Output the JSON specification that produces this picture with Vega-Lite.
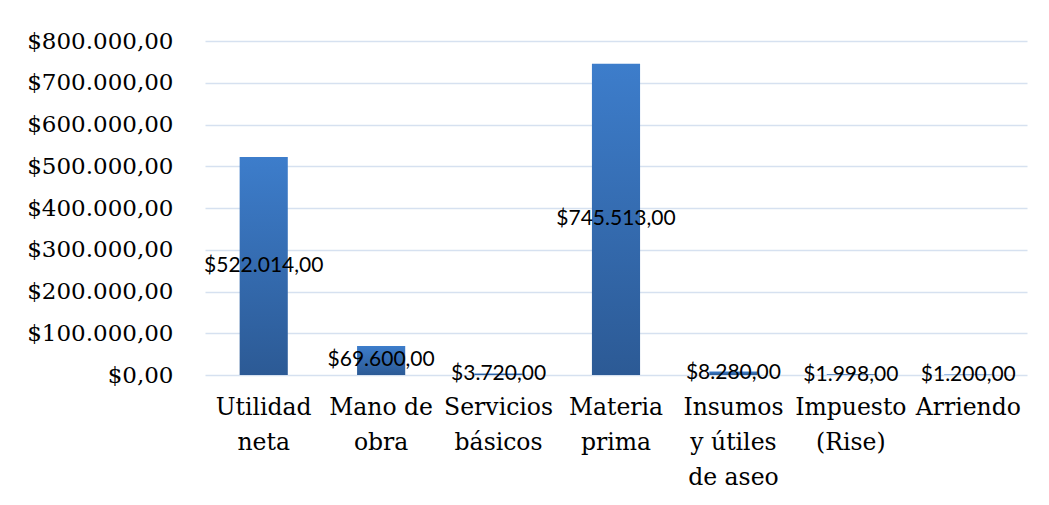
{
  "$schema": "https://vega.github.io/schema/vega-lite/v6.json",
  "width": 822,
  "height": 334,
  "autosize": {"type": "none"},
  "padding": {"left": 205, "top": 41, "right": 22, "bottom": 130},
  "background": "white",
  "config": {
    "view": {"stroke": null},
    "locale": {"number": {"decimal": ",", "thousands": ".", "grouping": [3], "currency": ["$", ""]}}
  },
  "data": {
    "values": [
      {"rubro": "Utilidad\nneta", "valor": 522014},
      {"rubro": "Mano de\nobra", "valor": 69600},
      {"rubro": "Servicios\nbásicos", "valor": 3720},
      {"rubro": "Materia\nprima", "valor": 745513},
      {"rubro": "Insumos\ny útiles\nde aseo", "valor": 8280},
      {"rubro": "Impuesto\n(Rise)", "valor": 1998},
      {"rubro": "Arriendo", "valor": 1200}
    ]
  },
  "encoding": {
    "x": {
      "field": "rubro", "type": "nominal", "sort": null,
      "scale": {"paddingInner": 0.59, "paddingOuter": 0.295},
      "axis": {
        "title": null, "labelAngle": 0, "domain": false, "ticks": false,
        "labelFont": "DejaVu Serif", "labelFontSize": 23.5, "labelColor": "black",
        "labelPadding": 20, "labelLineHeight": 35, "labelBaseline": "top",
        "labelExpr": "split(datum.label, '\\n')", "labelLimit": 200, "labelOverlap": false
      }
    }
  },
  "layer": [
    {
      "mark": {
        "type": "bar",
        "color": {
          "gradient": "linear", "x1": 0, "y1": 0, "x2": 0, "y2": 1,
          "stops": [{"offset": 0, "color": "#3d7dcb"}, {"offset": 1, "color": "#2c5a95"}]
        }
      },
      "encoding": {
        "y": {
          "field": "valor", "type": "quantitative",
          "scale": {"domain": [0, 800000]},
          "axis": {
            "title": null, "values": [0,100000,200000,300000,400000,500000,600000,700000,800000],
            "format": "$,.2f", "domain": false, "ticks": false, "labelOverlap": false,
            "labelFont": "DejaVu Serif", "labelFontSize": 23, "labelColor": "black",
            "labelPadding": 32, "gridColor": "#d6e1f0", "gridWidth": 1.5
          }
        }
      }
    },
    {
      "mark": {"type": "text", "font": "Lato", "fontSize": 21, "color": "black", "baseline": "middle"},
      "encoding": {
        "y": {"field": "valor", "type": "quantitative", "scale": {"domain": [0, 1600000]}, "axis": null},
        "text": {"field": "valor", "type": "quantitative", "format": "$,.2f"}
      }
    }
  ],
  "resolve": {"scale": {"y": "independent"}}
}
